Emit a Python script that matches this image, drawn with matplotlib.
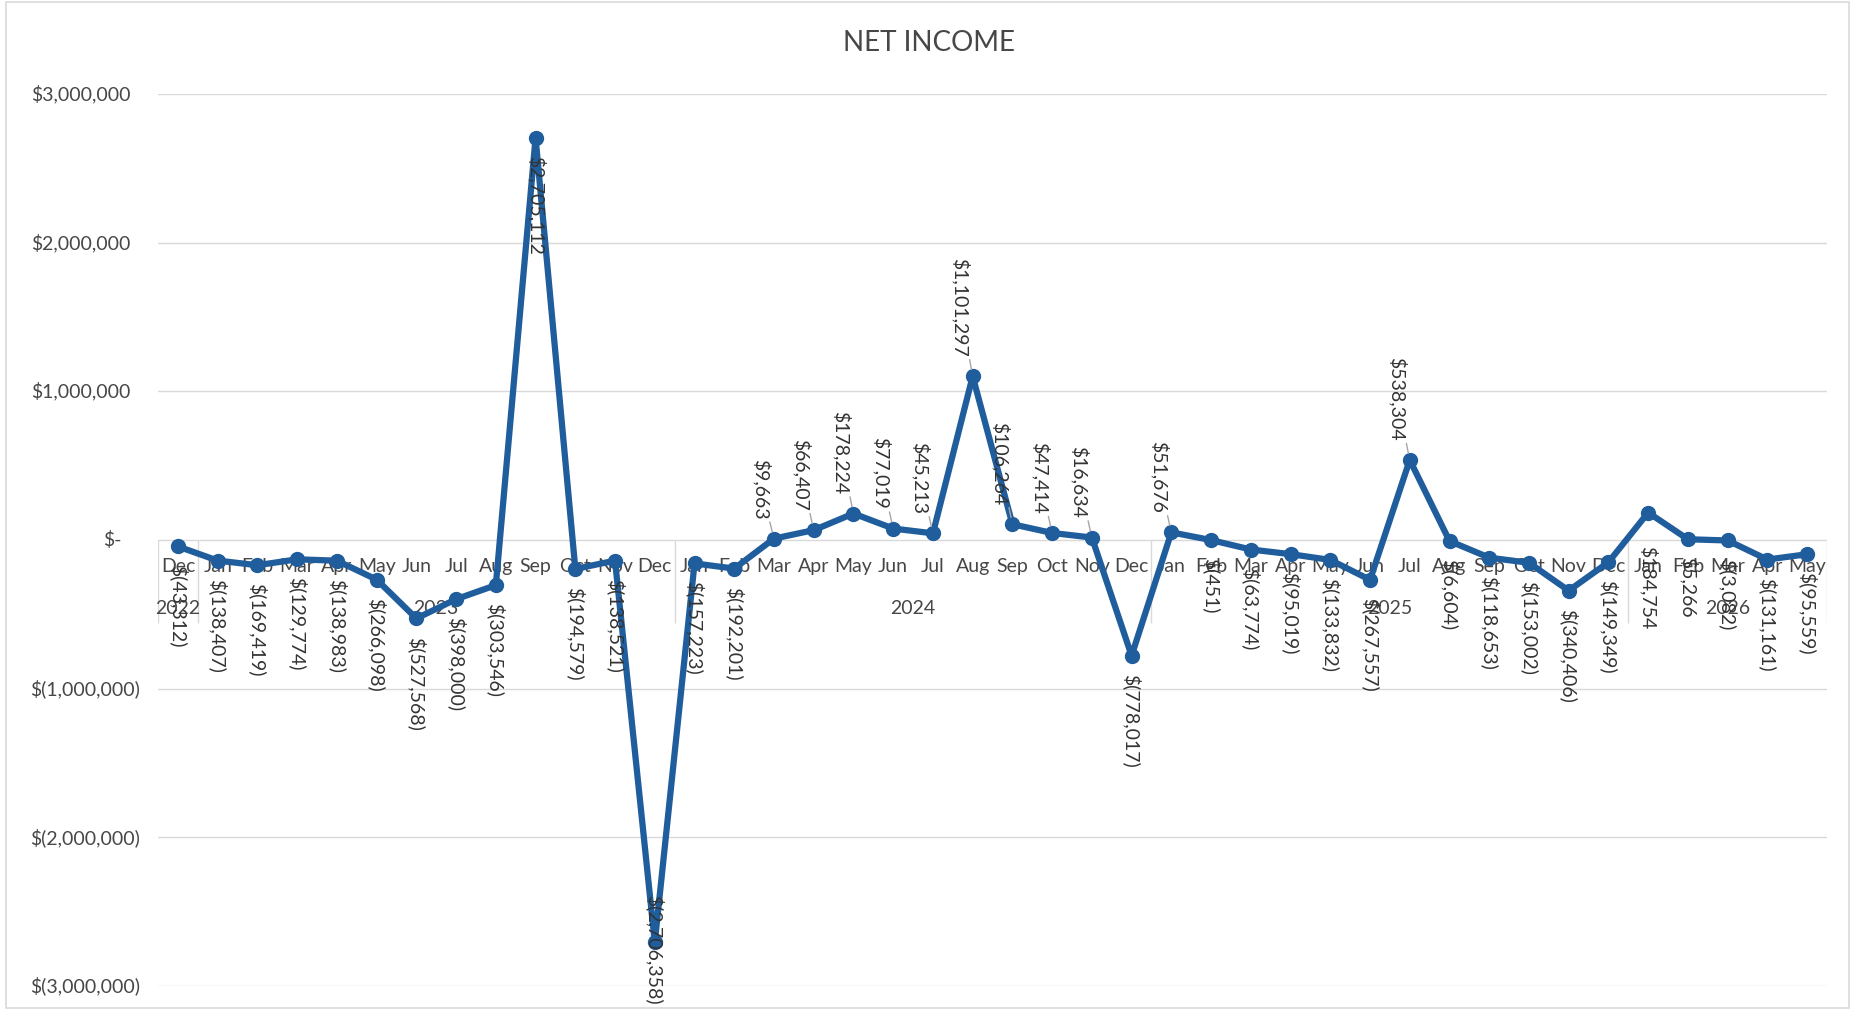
import matplotlib
matplotlib.use("Agg")
import matplotlib.pyplot as plt
import matplotlib.transforms as mtransforms
from matplotlib.patches import Rectangle

plt.rcParams['font.family'] = ['Lato', 'DejaVu Sans']

# category axis: months grouped by year
months = ["Dec",
          "Jan", "Feb", "Mar", "Apr", "May", "Jun", "Jul", "Aug", "Sep", "Oct", "Nov", "Dec",
          "Jan", "Feb", "Mar", "Apr", "May", "Jun", "Jul", "Aug", "Sep", "Oct", "Nov", "Dec",
          "Jan", "Feb", "Mar", "Apr", "May", "Jun", "Jul", "Aug", "Sep", "Oct", "Nov", "Dec",
          "Jan", "Feb", "Mar", "Apr", "May"]
years = ["2022", "2023", "2024", "2025", "2026"]
months_per_year = [1, 12, 12, 12, 5]

net_income = [-43312,
              -138407, -169419, -129774, -138983, -266098, -527568,
              -398000, -303546, 2705112, -194579, -138521, -2706358,
              -157223, -192201, 9663, 66407, 178224, 77019,
              45213, 1101297, 106264, 47414, 16634, -778017,
              51676, -451, -63774, -95019, -133832, -267557,
              538304, -6604, -118653, -153002, -340406, -149349,
              184754, 5266, -3082, -131161, -95559]

y_ticks = [3000000, 2000000, 1000000, 0, -1000000, -2000000, -3000000]

# labels that Excel placed differently from the sign-based default
label_place = {9: "below", 12: "center", 37: "below_far", 38: "below"}

LINE = '#1f5d9c'
GRID = '#d9d9d9'
AXTXT = '#474747'
LBLTXT = '#333333'


def money(v):
    if v < 0:
        return "$({:,.0f})".format(-v)
    if v == 0:
        return "$-"
    return "${:,.0f}".format(v)


fig = plt.figure(figsize=(18.62, 10.11), dpi=100)
ax = fig.add_axes([0.0849, 0.0247, 0.8963, 0.8823])

x = list(range(len(net_income)))
ax.plot(x, net_income, color=LINE, lw=4.5, marker='o', ms=10, zorder=3)

ax.set_xlim(-0.5, len(net_income) - 0.5)
ax.set_ylim(-3000000, 3000000)
ax.set_xticks([])
ax.set_yticks(y_ticks)
ax.set_yticklabels([])
ax.tick_params(axis='y', length=0)
ax.grid(axis='y', color=GRID, lw=1)
ax.set_axisbelow(True)
for s in ax.spines.values():
    s.set_visible(False)

# y labels in accounting style (positive values keep room for ")")
ytrans = mtransforms.blended_transform_factory(ax.transAxes, ax.transData)
for v in y_ticks:
    pad = 13 if v < 0 else (26 if v == 0 else 20)
    ax.annotate(money(v), xy=(0, v), xycoords=ytrans, xytext=(-pad, 0),
                textcoords='offset points', ha='right', va='center',
                fontsize=14, color=AXTXT)

# multi-level category axis
for i, m in enumerate(months):
    ax.annotate(m, xy=(i, 0), xytext=(0, -19), textcoords='offset points',
                ha='center', va='center', fontsize=14, color=AXTXT, zorder=1)

start = 0
bounds = [-0.5]
for yr, n in zip(years, months_per_year):
    mid = start + (n - 1) / 2
    ax.annotate(yr, xy=(mid, 0), xytext=(0, -49), textcoords='offset points',
                ha='center', va='center', fontsize=14, color=AXTXT, zorder=1)
    start += n
    bounds.append(start - 0.5)
ax.vlines(bounds, -560000, 0, color=GRID, lw=1, zorder=0.5)

# data labels
for i, v in enumerate(net_income):
    place = label_place.get(i, "above" if v > 0 else "below")
    txt = money(v)
    if place == "above":
        ax.annotate(txt, xy=(i, v), xytext=(-9, 14), textcoords='offset points',
                    rotation=270, ha='center', va='bottom', fontsize=14,
                    color=LBLTXT, zorder=4,
                    arrowprops=dict(arrowstyle='-', color='#a6a6a6', lw=1,
                                    shrinkA=0, shrinkB=5))
    elif place == "center":
        ax.annotate(txt, xy=(i, v), xytext=(0, -5), textcoords='offset points',
                    rotation=270, ha='center', va='center', fontsize=14,
                    color=LBLTXT, zorder=4)
    else:
        off = -24 if place == "below_far" else -13
        ax.annotate(txt, xy=(i, v), xytext=(0, off), textcoords='offset points',
                    rotation=270, ha='center', va='top', fontsize=14,
                    color=LBLTXT, zorder=4)

fig.text(0.499, 0.957, "NET INCOME", ha='center', va='center', fontsize=20,
         color=AXTXT)

fig.patches.append(Rectangle((0.003, 0.003), 0.990, 0.995, transform=fig.transFigure,
                             fill=False, edgecolor=GRID, lw=1.2))

fig.savefig("out.png", dpi=100)
